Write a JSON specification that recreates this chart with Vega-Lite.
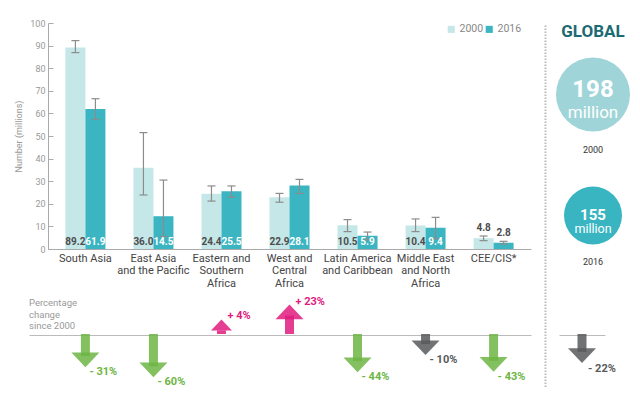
{
  "$schema": "https://vega.github.io/schema/vega-lite/v6.json",
  "width": 640,
  "height": 399,
  "autosize": {"type": "none"},
  "padding": 0,
  "background": "white",
  "config": {"view": {"stroke": null}, "font": "Roboto", "axis": {"grid": false}},
  "layer": [
    {
      "data": {"values": [
        {"region": "South Asia", "year": "2000", "value": 89.2, "lo": 86.9, "hi": 92.2},
        {"region": "South Asia", "year": "2016", "value": 61.9, "lo": 57.4, "hi": 66.5},
        {"region": "East Asia and the Pacific", "year": "2000", "value": 36.0, "lo": 23.9, "hi": 51.5},
        {"region": "East Asia and the Pacific", "year": "2016", "value": 14.5, "lo": 5.5, "hi": 30.5},
        {"region": "Eastern and Southern Africa", "year": "2000", "value": 24.4, "lo": 21.2, "hi": 27.9},
        {"region": "Eastern and Southern Africa", "year": "2016", "value": 25.5, "lo": 22.9, "hi": 27.9},
        {"region": "West and Central Africa", "year": "2000", "value": 22.9, "lo": 20.7, "hi": 24.6},
        {"region": "West and Central Africa", "year": "2016", "value": 28.1, "lo": 24.6, "hi": 30.8},
        {"region": "Latin America and Caribbean", "year": "2000", "value": 10.5, "lo": 7.7, "hi": 13.0},
        {"region": "Latin America and Caribbean", "year": "2016", "value": 5.9, "lo": 4.0, "hi": 7.5},
        {"region": "Middle East and North Africa", "year": "2000", "value": 10.4, "lo": 7.7, "hi": 13.3},
        {"region": "Middle East and North Africa", "year": "2016", "value": 9.4, "lo": 4.5, "hi": 14.0},
        {"region": "CEE/CIS*", "year": "2000", "value": 4.8, "lo": 3.7, "hi": 5.75},
        {"region": "CEE/CIS*", "year": "2016", "value": 2.8, "lo": 2.2, "hi": 3.4}
      ]},
      "layer": [
        {
          "mark": {"type": "bar"},
          "encoding": {
            "x": {"field": "region", "type": "nominal",
              "scale": {"type": "band", "domain": ["South Asia", "East Asia and the Pacific", "Eastern and Southern Africa", "West and Central Africa", "Latin America and Caribbean", "Middle East and North Africa", "CEE/CIS*"], "range": [48, 531], "paddingInner": 0, "paddingOuter": 0.05},
              "axis": {"orient": "bottom", "offset": -150, "title": null, "ticks": false, "domainColor": "#aaaaaa", "domainWidth": 1, "labelColor": "#444444", "labelFontSize": 11, "labelPadding": 3, "labelLineHeight": 12.5, "labelAngle": 0, "labelBaseline": "top",
                "labelExpr": "datum.value == 'East Asia and the Pacific' ? ['East Asia', 'and the Pacific'] : datum.value == 'Eastern and Southern Africa' ? ['Eastern and', 'Southern', 'Africa'] : datum.value == 'West and Central Africa' ? ['West and', 'Central', 'Africa'] : datum.value == 'Latin America and Caribbean' ? ['Latin America', 'and Caribbean'] : datum.value == 'Middle East and North Africa' ? ['Middle East', 'and North', 'Africa'] : datum.label"}},
            "xOffset": {"field": "year", "type": "nominal", "scale": {"domain": ["2000", "2016"], "paddingInner": 0, "paddingOuter": 0.7}},
            "y": {"field": "value", "type": "quantitative",
              "scale": {"domain": [0, 100], "range": [249, 23], "nice": false, "zero": true},
              "axis": {"orient": "left", "offset": -48, "title": "Number (millions)", "titleColor": "#999999", "titleFontSize": 9, "titleFontWeight": "normal", "titlePadding": 6, "values": [0, 10, 20, 30, 40, 50, 60, 70, 80, 90, 100], "tickCount": 11, "labelOverlap": false, "labelFlush": false, "domainColor": "#aaaaaa", "tickColor": "#aaaaaa", "tickSize": -5, "labelPadding": 8, "labelColor": "#999999", "labelFontSize": 9}},
            "color": {"field": "year", "type": "nominal",
              "scale": {"domain": ["2000", "2016"], "range": ["#c5e7e8", "#3ab5c1"]},
              "legend": {"orient": "none", "legendX": 446, "legendY": 24, "direction": "horizontal", "title": null, "symbolType": "square", "symbolSize": 50, "symbolStrokeWidth": 0, "labelFontSize": 10.5, "labelColor": "#888888", "labelOffset": 3, "columnPadding": 0}}
          }
        },
        {
          "mark": {"type": "rule", "color": "#8c8c8c", "strokeWidth": 1.2},
          "encoding": {
            "x": {"field": "region", "type": "nominal"},
            "xOffset": {"field": "year", "type": "nominal"},
            "y": {"field": "lo", "type": "quantitative"},
            "y2": {"field": "hi"}
          }
        },
        {
          "mark": {"type": "tick", "color": "#8c8c8c", "thickness": 1.2, "size": 8, "opacity": 1},
          "encoding": {
            "x": {"field": "region", "type": "nominal"},
            "xOffset": {"field": "year", "type": "nominal"},
            "y": {"field": "lo", "type": "quantitative"}
          }
        },
        {
          "mark": {"type": "tick", "color": "#8c8c8c", "thickness": 1.2, "size": 8, "opacity": 1},
          "encoding": {
            "x": {"field": "region", "type": "nominal"},
            "xOffset": {"field": "year", "type": "nominal"},
            "y": {"field": "hi", "type": "quantitative"}
          }
        },
        {
          "transform": [{"filter": "datum.region != 'CEE/CIS*'"}],
          "mark": {"type": "text", "fontSize": 10, "fontWeight": "bold", "baseline": "middle", "dy": -7},
          "encoding": {
            "x": {"field": "region", "type": "nominal"},
            "xOffset": {"field": "year", "type": "nominal"},
            "y": {"datum": 0, "type": "quantitative"},
            "text": {"field": "value", "type": "quantitative", "format": ".1f"},
            "color": {"condition": {"test": "datum.year == '2000'", "value": "#4d4d4d"}, "value": "#ffffff"}
          }
        },
        {
          "transform": [{"filter": "datum.region == 'CEE/CIS*'"}],
          "mark": {"type": "text", "fontSize": 10, "fontWeight": "bold", "baseline": "bottom", "dy": -3, "color": "#4d4d4d"},
          "encoding": {
            "x": {"field": "region", "type": "nominal"},
            "xOffset": {"field": "year", "type": "nominal"},
            "y": {"field": "hi", "type": "quantitative"},
            "text": {"field": "value", "type": "quantitative", "format": ".1f"}
          }
        }
      ]
    },
    {
      "data": {"values": [
        {"region": "South Asia", "change": -31, "label": "- 31%", "trend": "decrease"},
        {"region": "East Asia and the Pacific", "change": -60, "label": "- 60%", "trend": "decrease"},
        {"region": "Eastern and Southern Africa", "change": 4, "label": "+ 4%", "trend": "increase"},
        {"region": "West and Central Africa", "change": 23, "label": "+ 23%", "trend": "increase"},
        {"region": "Latin America and Caribbean", "change": -44, "label": "- 44%", "trend": "decrease"},
        {"region": "Middle East and North Africa", "change": -10, "label": "- 10%", "trend": "slight decrease"},
        {"region": "CEE/CIS*", "change": -43, "label": "- 43%", "trend": "decrease"}
      ]},
      "layer": [
        {
          "transform": [{"filter": "datum.change < 0"}],
          "mark": {"type": "bar", "width": 9, "yOffset": -11, "y2Offset": 3, "opacity": 0.85},
          "encoding": {
            "x": {"field": "region", "type": "nominal",
              "scale": {"type": "band", "domain": ["South Asia", "East Asia and the Pacific", "Eastern and Southern Africa", "West and Central Africa", "Latin America and Caribbean", "Middle East and North Africa", "CEE/CIS*"], "range": [29, 531], "paddingInner": 0, "paddingOuter": 0.1896, "align": 0.868},
              "axis": {"orient": "bottom", "offset": -64, "labels": false, "ticks": false, "title": null, "domainColor": "#bbbbbb", "domainWidth": 1.2}},
            "y": {"field": "change", "type": "quantitative", "stack": null,
              "scale": {"type": "pow", "exponent": 0.4, "domain": [-64, 25], "range": [378.34, 303.56], "zero": false, "nice": false},
              "axis": null},
            "color": {"field": "trend", "type": "nominal", "scale": {"domain": ["decrease", "increase", "slight decrease"], "range": ["#6db544", "#df1b7f", "#58595b"]}, "legend": null}
          }
        },
        {
          "transform": [{"filter": "datum.change < 0"}],
          "mark": {"type": "point", "shape": "M-1,-1.05L1,-1.05L0,0Z", "filled": true, "opacity": 0.85, "size": 784, "strokeWidth": 0},
          "encoding": {
            "x": {"field": "region", "type": "nominal"},
            "y": {"field": "change", "type": "quantitative", "axis": null},
            "color": {"field": "trend", "type": "nominal", "legend": null}
          }
        },
        {
          "transform": [{"filter": "datum.change < 0"}],
          "mark": {"type": "text", "align": "left", "baseline": "middle", "dx": 4, "dy": 5, "fontSize": 11, "fontWeight": "bold"},
          "encoding": {
            "x": {"field": "region", "type": "nominal"},
            "y": {"field": "change", "type": "quantitative", "axis": null},
            "text": {"field": "label", "type": "nominal"},
            "color": {"field": "trend", "type": "nominal", "legend": null}
          }
        },
        {
          "transform": [{"filter": "datum.change > 0"}],
          "mark": {"type": "bar", "width": 9, "yOffset": 11, "y2Offset": -5, "opacity": 0.85},
          "encoding": {
            "x": {"field": "region", "type": "nominal"},
            "y": {"field": "change", "type": "quantitative", "stack": null, "axis": null},
            "color": {"field": "trend", "type": "nominal", "legend": null}
          }
        },
        {
          "transform": [{"filter": "datum.change > 0"}],
          "mark": {"type": "point", "shape": "M-1,1.05L1,1.05L0,0Z", "filled": true, "opacity": 0.85, "strokeWidth": 0},
          "encoding": {
            "x": {"field": "region", "type": "nominal"},
            "y": {"field": "change", "type": "quantitative", "axis": null},
            "size": {"field": "change", "type": "quantitative", "scale": {"domain": [4, 23], "range": [441, 784], "zero": false}, "legend": null},
            "color": {"field": "trend", "type": "nominal", "legend": null}
          }
        },
        {
          "transform": [{"filter": "datum.change > 0"}],
          "mark": {"type": "text", "align": "left", "baseline": "middle", "dx": 6, "dy": -3, "fontSize": 11, "fontWeight": "bold"},
          "encoding": {
            "x": {"field": "region", "type": "nominal"},
            "y": {"field": "change", "type": "quantitative", "axis": null},
            "text": {"field": "label", "type": "nominal"},
            "color": {"field": "trend", "type": "nominal", "legend": null}
          }
        },
        {
          "transform": [{"filter": "datum.region == 'South Asia'"}],
          "mark": {"type": "text", "align": "left", "baseline": "middle", "dx": -56.4, "dy": -11.5, "lineHeight": 11.5, "fontSize": 9.5, "color": "#999999"},
          "encoding": {
            "x": {"field": "region", "type": "nominal"},
            "y": {"datum": 8, "type": "quantitative", "axis": null},
            "text": {"value": ["Percentage", "change", "since 2000"]}
          }
        }
      ]
    },
    {
      "data": {"values": [
        {"region": "Global", "change": -22, "label": "- 22%"}
      ]},
      "layer": [
        {
          "mark": {"type": "bar", "width": 9, "yOffset": -11, "y2Offset": 3, "color": "#58595b", "opacity": 0.85},
          "encoding": {
            "x": {"field": "region", "type": "nominal",
              "scale": {"type": "band", "domain": ["Global"], "range": [559, 605], "paddingInner": 0, "paddingOuter": 0},
              "axis": {"orient": "bottom", "offset": -64, "labels": false, "ticks": false, "title": null, "domainColor": "#bbbbbb", "domainWidth": 1.2}},
            "y": {"field": "change", "type": "quantitative", "stack": null,
              "scale": {"type": "pow", "exponent": 0.4, "domain": [-64, 25], "range": [378.34, 303.56], "zero": false, "nice": false},
              "axis": null}
          }
        },
        {
          "mark": {"type": "point", "shape": "M-1,-1.05L1,-1.05L0,0Z", "filled": true, "opacity": 0.85, "size": 784, "strokeWidth": 0, "color": "#58595b"},
          "encoding": {
            "x": {"field": "region", "type": "nominal"},
            "y": {"field": "change", "type": "quantitative", "axis": null}
          }
        },
        {
          "mark": {"type": "text", "align": "left", "baseline": "middle", "dx": 6, "dy": 6, "fontSize": 11, "fontWeight": "bold", "color": "#58595b"},
          "encoding": {
            "x": {"field": "region", "type": "nominal"},
            "y": {"field": "change", "type": "quantitative", "axis": null},
            "text": {"field": "label", "type": "nominal"}
          }
        }
      ]
    },
    {
      "data": {"values": [
        {"scope": "Global", "year": "2000", "total": 198, "unit": "million"},
        {"scope": "Global", "year": "2016", "total": 155, "unit": "million"}
      ]},
      "layer": [
        {
          "mark": {"type": "circle", "opacity": 1},
          "encoding": {
            "x": {"field": "scope", "type": "nominal", "scale": {"type": "point", "domain": ["Global"], "range": [556, 630]}, "axis": null},
            "y": {"field": "year", "type": "nominal",
              "scale": {"type": "point", "domain": ["2000", "2016"], "range": [25, 388], "padding": 1.495, "align": 0.287},
              "axis": {"orient": "left", "offset": -545, "labels": false, "ticks": false, "title": null, "domainColor": "#bbbbbb", "domainWidth": 2, "domainDash": [1.5, 1.5]}},
            "size": {"field": "total", "type": "quantitative", "scale": {"type": "pow", "exponent": 2, "domain": [0, 198], "range": [0, 5476], "zero": true}, "legend": null},
            "color": {"field": "year", "type": "nominal", "scale": {"domain": ["2000", "2016"], "range": ["#9fd5d8", "#38b5c1"]}, "legend": null}
          }
        },
        {
          "transform": [{"filter": "datum.year == '2000'"}],
          "mark": {"type": "text", "fontSize": 24, "fontWeight": "bold", "color": "#ffffff", "baseline": "middle", "dy": -4},
          "encoding": {
            "x": {"field": "scope", "type": "nominal", "axis": null},
            "y": {"field": "year", "type": "nominal"},
            "text": {"field": "total", "type": "quantitative"}
          }
        },
        {
          "transform": [{"filter": "datum.year == '2000'"}],
          "mark": {"type": "text", "fontSize": 17, "color": "#ffffff", "baseline": "middle", "dy": 19},
          "encoding": {
            "x": {"field": "scope", "type": "nominal", "axis": null},
            "y": {"field": "year", "type": "nominal"},
            "text": {"field": "unit", "type": "nominal"}
          }
        },
        {
          "transform": [{"filter": "datum.year == '2016'"}],
          "mark": {"type": "text", "fontSize": 15, "fontWeight": "bold", "color": "#ffffff", "baseline": "middle", "dy": 0},
          "encoding": {
            "x": {"field": "scope", "type": "nominal", "axis": null},
            "y": {"field": "year", "type": "nominal"},
            "text": {"field": "total", "type": "quantitative"}
          }
        },
        {
          "transform": [{"filter": "datum.year == '2016'"}],
          "mark": {"type": "text", "fontSize": 12.5, "color": "#ffffff", "baseline": "middle", "dy": 14},
          "encoding": {
            "x": {"field": "scope", "type": "nominal", "axis": null},
            "y": {"field": "year", "type": "nominal"},
            "text": {"field": "unit", "type": "nominal"}
          }
        },
        {
          "transform": [{"filter": "datum.year == '2000'"}],
          "mark": {"type": "text", "fontSize": 9, "color": "#333333", "baseline": "middle", "dy": 56},
          "encoding": {
            "x": {"field": "scope", "type": "nominal", "axis": null},
            "y": {"field": "year", "type": "nominal"},
            "text": {"field": "year", "type": "nominal"}
          }
        },
        {
          "transform": [{"filter": "datum.year == '2016'"}],
          "mark": {"type": "text", "fontSize": 9, "color": "#333333", "baseline": "middle", "dy": 47},
          "encoding": {
            "x": {"field": "scope", "type": "nominal", "axis": null},
            "y": {"field": "year", "type": "nominal"},
            "text": {"field": "year", "type": "nominal"}
          }
        },
        {
          "transform": [{"filter": "datum.year == '2000'"}],
          "mark": {"type": "text", "fontSize": 17, "fontWeight": "bold", "color": "#1c6a73", "baseline": "middle", "dy": -62},
          "encoding": {
            "x": {"field": "scope", "type": "nominal", "axis": null},
            "y": {"field": "year", "type": "nominal"},
            "text": {"value": "GLOBAL"}
          }
        }
      ]
    }
  ],
  "resolve": {
    "scale": {"x": "independent", "y": "independent", "xOffset": "independent", "color": "independent", "size": "independent"},
    "axis": {"x": "independent", "y": "independent"},
    "legend": {"color": "independent", "size": "independent"}
  }
}
